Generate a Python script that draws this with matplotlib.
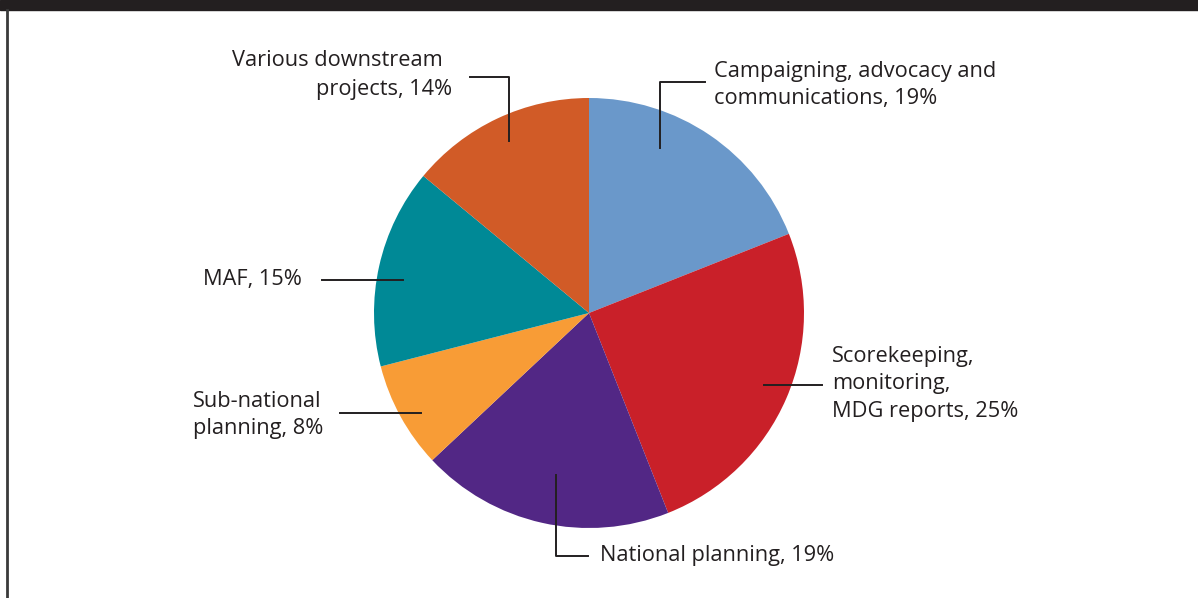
import matplotlib.pyplot as plt
from matplotlib.patches import Rectangle

labels = ['Campaigning, advocacy and\ncommunications, 19%',
          'Scorekeeping,\nmonitoring,\nMDG reports, 25%',
          'National planning, 19%',
          'Sub-national\nplanning, 8%',
          'MAF, 15%',
          'Various downstream\nprojects, 14%']
shares = [19, 25, 19, 8, 15, 14]
colors = ['#6a98ca', '#c92029', '#522785', '#f89c36', '#008996', '#d15b27']

H = 598
ink = '#231f20'

fig = plt.figure(figsize=(11.98, 5.98), dpi=100)
ax = fig.add_axes([0, 0, 1, 1])

# pie in pixel coordinates (y measured from bottom)
ax.pie(shares, colors=colors, startangle=90, counterclock=False,
       center=(589, H - 313), radius=215, frame=True,
       wedgeprops=dict(linewidth=0))

ax.set_xlim(0, 1198)
ax.set_ylim(0, H)
ax.set_aspect('equal')
ax.axis('off')

# frame: dark top bar and left rule
ax.add_patch(Rectangle((0, H - 10), 1198, 10, color=ink, zorder=5))
ax.plot([7, 7], [0, H - 10], color='#3a3a3a', lw=2, zorder=5)

# leader lines (pixel positions)
leaders = [
    ([660, 660, 705], [148, 82, 82]),
    ([764, 822], [385, 385]),
    ([556, 556, 588], [475, 556, 556]),
    ([421, 340], [413, 413]),
    ([403, 322], [280, 280]),
    ([509, 509, 470], [141, 77, 77]),
]
for xs, ys in leaders:
    ax.plot(xs, [H - y for y in ys], color=ink, lw=1.4, zorder=4)

font = dict(fontsize=15.7, color=ink, family='Open Sans', linespacing=1.38)
ax.text(714, H - 85, labels[0], ha='left', va='center', **font)
ax.text(832, H - 384, labels[1], ha='left', va='center', **font)
ax.text(600, H - 556, labels[2], ha='left', va='center', **font)
ax.text(323, H - 415, labels[3], ha='right', va='center', multialignment='left', **font)
ax.text(302, H - 280, labels[4], ha='right', va='center', **font)
various_top, various_bottom = labels[5].split('\n')
ax.text(443, H - 61, various_top, ha='right', va='center', **font)
ax.text(452, H - 90, various_bottom, ha='right', va='center', **font)

fig.savefig('out.png', dpi=100)
